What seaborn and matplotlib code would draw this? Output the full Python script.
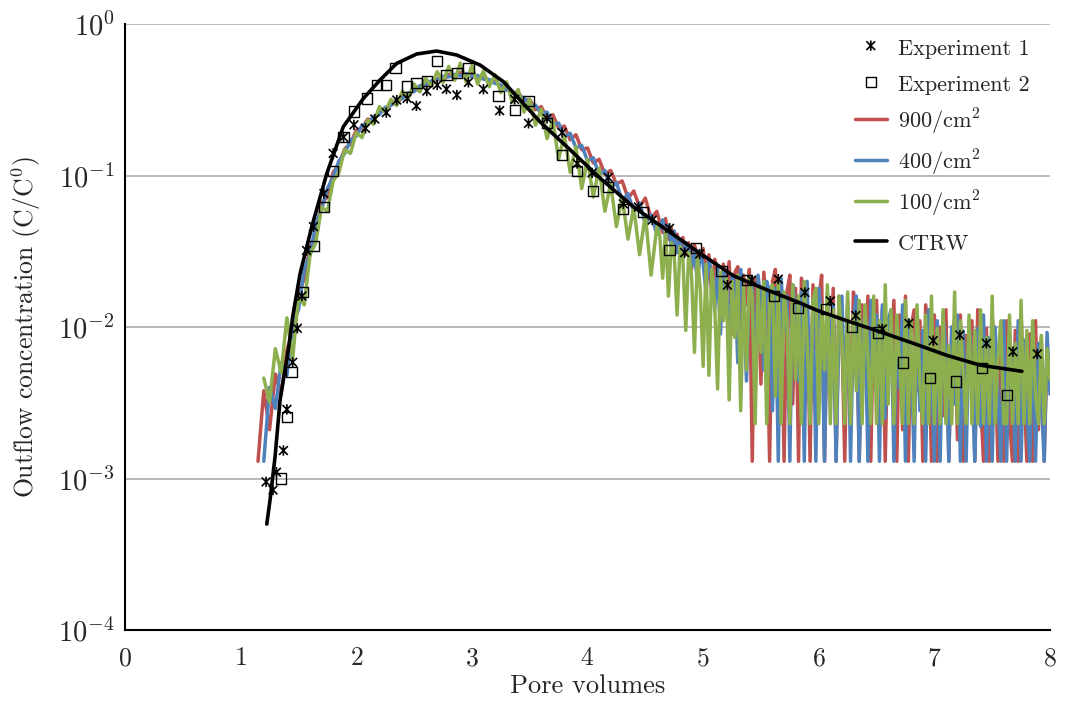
import numpy as np
import matplotlib
matplotlib.use('Agg')
import matplotlib.pyplot as plt
from matplotlib.path import Path
from matplotlib.ticker import NullLocator
import seaborn as sns

# pore-volume grid of the simulated curves (coarser in the body, finer in the tail)
pv_body = np.round(np.arange(1.15, 4.601, 0.05), 3)
pv_tail = np.round(np.arange(4.625, 8.0001, 0.025), 3)
pv_grid = np.concatenate([pv_body, pv_tail])

# simulations, 900 / cm2
c_900_body = [0.0013, 0.0038, 0.0021, 0.0049, 0.0036, 0.0071, 0.0092, 0.016, 0.021, 0.034,
              0.041, 0.066, 0.072, 0.105, 0.118, 0.150, 0.162, 0.199, 0.205, 0.236,
              0.228, 0.262, 0.271, 0.300, 0.294, 0.335, 0.338, 0.372, 0.365, 0.408,
              0.398, 0.437, 0.421, 0.466, 0.442, 0.478, 0.455, 0.470, 0.446, 0.452,
              0.418, 0.425, 0.386, 0.392, 0.350, 0.355, 0.312, 0.318, 0.272, 0.285,
              0.238, 0.252, 0.205, 0.212, 0.172, 0.186, 0.148, 0.152, 0.121, 0.128,
              0.102, 0.108, 0.088, 0.092, 0.071, 0.079, 0.062, 0.071, 0.052, 0.058]
c_900_tail = [0.049, 0.042, 0.052, 0.038, 0.045, 0.036, 0.041, 0.033,
              0.039, 0.030, 0.036, 0.024, 0.035, 0.029, 0.027, 0.033,
              0.021, 0.030, 0.016, 0.028, 0.024, 0.011, 0.026, 0.019,
              0.027, 0.009, 0.023, 0.025, 0.0065, 0.022, 0.014, 0.024,
              0.0013, 0.021, 0.018, 0.0042, 0.023, 0.012, 0.0013, 0.020,
              0.024, 0.0058, 0.019, 0.0013, 0.017, 0.022, 0.0031, 0.018,
              0.0013, 0.021, 0.011, 0.016, 0.0013, 0.019, 0.0072, 0.015,
              0.022, 0.0013, 0.013, 0.0045, 0.018, 0.0013, 0.016, 0.009,
              0.0013, 0.015, 0.0027, 0.017, 0.012, 0.0013, 0.014, 0.0055,
              0.016, 0.0013, 0.012, 0.015, 0.0034, 0.013, 0.0013, 0.011,
              0.0062, 0.015, 0.0013, 0.012, 0.0021, 0.016, 0.0013, 0.010,
              0.013, 0.0038, 0.011, 0.0013, 0.014, 0.0085, 0.0013, 0.012,
              0.0013, 0.010, 0.0026, 0.013, 0.0013, 0.0092, 0.011, 0.0018,
              0.012, 0.0013, 0.0088, 0.0045, 0.011, 0.0013, 0.013, 0.0032,
              0.0013, 0.0098, 0.0013, 0.012, 0.0061, 0.0013, 0.010, 0.0013,
              0.011, 0.0025, 0.0013, 0.0095, 0.0013, 0.012, 0.0040, 0.0013,
              0.0090, 0.0013, 0.011, 0.0021, 0.0085, 0.0013, 0.0072, 0.0038]

# simulations, 400 / cm2
c_400_body = [np.nan, 0.0013, 0.0040, 0.0029, 0.0058, 0.0048, 0.0105, 0.013, 0.024, 0.030,
              0.048, 0.060, 0.082, 0.098, 0.125, 0.140, 0.170, 0.182, 0.215, 0.221,
              0.245, 0.252, 0.282, 0.290, 0.318, 0.322, 0.352, 0.358, 0.392, 0.396,
              0.422, 0.428, 0.452, 0.448, 0.465, 0.455, 0.472, 0.449, 0.458, 0.432,
              0.430, 0.405, 0.398, 0.366, 0.360, 0.325, 0.328, 0.290, 0.292, 0.255,
              0.262, 0.218, 0.222, 0.180, 0.190, 0.152, 0.158, 0.125, 0.131, 0.101,
              0.108, 0.082, 0.090, 0.068, 0.076, 0.058, 0.066, 0.048, 0.055, 0.041]
c_400_tail = [0.045, 0.051, 0.039, 0.047, 0.034, 0.043, 0.031, 0.038,
              0.028, 0.036, 0.033, 0.025, 0.031, 0.020, 0.030, 0.026,
              0.017, 0.028, 0.022, 0.013, 0.025, 0.009, 0.023, 0.021,
              0.0075, 0.022, 0.019, 0.0058, 0.024, 0.016, 0.0044, 0.021,
              0.019, 0.0036, 0.022, 0.015, 0.0052, 0.020, 0.017, 0.0028,
              0.018, 0.0013, 0.021, 0.0095, 0.016, 0.0013, 0.019, 0.013,
              0.0044, 0.017, 0.0013, 0.020, 0.0026, 0.015, 0.0013, 0.018,
              0.012, 0.0013, 0.017, 0.0062, 0.014, 0.0013, 0.0095, 0.016,
              0.0035, 0.014, 0.0013, 0.011, 0.016, 0.0013, 0.0071, 0.013,
              0.0013, 0.015, 0.0048, 0.012, 0.0013, 0.014, 0.0025, 0.011,
              0.013, 0.0013, 0.0098, 0.0039, 0.014, 0.0013, 0.011, 0.0065,
              0.0013, 0.012, 0.0028, 0.0095, 0.0013, 0.013, 0.0052, 0.0013,
              0.011, 0.0013, 0.012, 0.0072, 0.0013, 0.010, 0.0031, 0.012,
              0.0013, 0.0094, 0.0013, 0.011, 0.0048, 0.0013, 0.0098, 0.0022,
              0.012, 0.0013, 0.0085, 0.0013, 0.010, 0.0036, 0.0013, 0.011,
              0.0013, 0.0090, 0.0052, 0.0013, 0.011, 0.0013, 0.0082, 0.0028,
              0.0013, 0.010, 0.0013, 0.0078, 0.0033, 0.0013, 0.0092, 0.0036]

# simulations, 100 / cm2
c_100_body = [np.nan, 0.0046, 0.0032, 0.0072, 0.0050, 0.0115, 0.0062, 0.016, 0.014, 0.030,
              0.036, 0.062, 0.058, 0.092, 0.105, 0.148, 0.140, 0.192, 0.178, 0.232,
              0.218, 0.285, 0.262, 0.318, 0.290, 0.362, 0.322, 0.402, 0.356, 0.438,
              0.388, 0.485, 0.412, 0.525, 0.425, 0.552, 0.415, 0.530, 0.402, 0.490,
              0.385, 0.462, 0.352, 0.415, 0.305, 0.370, 0.262, 0.318, 0.215, 0.275,
              0.175, 0.232, 0.128, 0.185, 0.105, 0.155, 0.082, 0.128, 0.072, 0.112,
              0.058, 0.088, 0.046, 0.072, 0.038, 0.062, 0.030, 0.055, 0.022, 0.046]
c_100_tail = [0.040, 0.021, 0.044, 0.016, 0.036, 0.030, 0.012, 0.034,
              0.028, 0.0095, 0.031, 0.022, 0.0068, 0.029, 0.018, 0.0055,
              0.026, 0.0048, 0.024, 0.014, 0.0039, 0.023, 0.011, 0.021,
              0.0033, 0.020, 0.0085, 0.022, 0.0028, 0.019, 0.0052, 0.021,
              0.016, 0.0023, 0.018, 0.0068, 0.020, 0.0023, 0.015, 0.019,
              0.0035, 0.021, 0.0023, 0.017, 0.011, 0.0023, 0.019, 0.0045,
              0.016, 0.0023, 0.020, 0.0078, 0.0023, 0.015, 0.018, 0.0023,
              0.014, 0.0052, 0.019, 0.0023, 0.013, 0.0023, 0.016, 0.0085,
              0.0023, 0.017, 0.0023, 0.012, 0.0038, 0.015, 0.0023, 0.014,
              0.0065, 0.0023, 0.016, 0.0023, 0.011, 0.0023, 0.019, 0.0031,
              0.013, 0.0023, 0.012, 0.0058, 0.0023, 0.015, 0.0023, 0.011,
              0.0023, 0.014, 0.0042, 0.0023, 0.012, 0.0023, 0.016, 0.0023,
              0.0098, 0.0023, 0.013, 0.0023, 0.0075, 0.0023, 0.017, 0.0023,
              0.011, 0.0048, 0.0023, 0.012, 0.0023, 0.0095, 0.0023, 0.013,
              0.0023, 0.0085, 0.0023, 0.016, 0.0023, 0.0062, 0.011, 0.0023,
              0.0023, 0.012, 0.0023, 0.0078, 0.0023, 0.015, 0.0023, 0.0095,
              0.0023, 0.011, 0.0035, 0.0023, 0.0088, 0.0023, 0.0072, 0.0045]

c_900 = c_900_body + c_900_tail
c_400 = c_400_body + c_400_tail
c_100 = c_100_body + c_100_tail

# CTRW fit
ctrw_x = [1.226, 1.254, 1.298, 1.341, 1.413, 1.45, 1.514, 1.615, 1.745, 1.888, 2.062,
          2.206, 2.35, 2.523, 2.696, 2.869, 3.071, 3.273, 3.417, 3.59, 3.821, 4.109,
          4.397, 4.686, 4.974, 5.262, 5.55, 5.839, 5.983, 6.243, 6.531, 6.819, 7.108,
          7.396, 7.757]
ctrw_y = [0.0005, 0.00072, 0.0014, 0.0033, 0.0071, 0.0117, 0.0225, 0.0459, 0.103, 0.210,
          0.323, 0.427, 0.550, 0.634, 0.663, 0.624, 0.536, 0.416, 0.315, 0.226, 0.155,
          0.096, 0.0621, 0.0437, 0.0306, 0.0218, 0.0176, 0.0144, 0.0129, 0.0110, 0.0093,
          0.0078, 0.0065, 0.0056, 0.0051]

# experiment 1
exp1_x = [1.22, 1.28, 1.31, 1.37, 1.40, 1.45, 1.49, 1.53, 1.57, 1.63, 1.72, 1.80, 1.89,
          1.98, 2.08, 2.16, 2.26, 2.35, 2.44, 2.52, 2.61, 2.70, 2.78, 2.87, 2.97, 3.10,
          3.24, 3.37, 3.49, 3.65, 3.78, 3.91, 4.04, 4.18, 4.31, 4.44, 4.56, 4.71, 4.84,
          4.97, 5.21, 5.42, 5.65, 5.88, 6.10, 6.32, 6.55, 6.78, 6.99, 7.22, 7.45, 7.68, 7.89]
exp1_y = [0.00095, 0.00084, 0.0011, 0.00153, 0.00286, 0.00585, 0.0098, 0.016, 0.032, 0.046,
          0.076, 0.140, 0.179, 0.216, 0.205, 0.236, 0.260, 0.315, 0.323, 0.288, 0.361,
          0.396, 0.372, 0.340, 0.412, 0.371, 0.268, 0.318, 0.221, 0.238, 0.192, 0.120,
          0.104, 0.097, 0.065, 0.062, 0.0508, 0.0448, 0.031, 0.0303, 0.0189, 0.0204,
          0.0207, 0.0169, 0.01485, 0.0119, 0.0097, 0.01057, 0.00813, 0.00885, 0.0078,
          0.00687, 0.00664]

# experiment 2
exp2_x = [1.35, 1.40, 1.44, 1.54, 1.63, 1.72, 1.80, 1.89, 1.98, 2.09, 2.18, 2.26, 2.34,
          2.44, 2.52, 2.61, 2.70, 2.78, 2.87, 2.97, 3.23, 3.37, 3.49, 3.65, 3.78, 3.91,
          4.05, 4.18, 4.31, 4.48, 4.71, 4.94, 5.16, 5.38, 5.61, 5.82, 6.06, 6.29, 6.51,
          6.73, 6.96, 7.19, 7.41, 7.63]
exp2_y = [0.0010, 0.00256, 0.00507, 0.0171, 0.0344, 0.0622, 0.1076, 0.179, 0.264, 0.323,
          0.396, 0.396, 0.510, 0.386, 0.406, 0.421, 0.570, 0.461, 0.477, 0.510, 0.335,
          0.271, 0.310, 0.221, 0.137, 0.1076, 0.079, 0.0844, 0.0598, 0.0577, 0.0322,
          0.0334, 0.0235, 0.0204, 0.016, 0.0133, 0.0131, 0.00995, 0.0092, 0.00582,
          0.00463, 0.00436, 0.00534, 0.00356]

sns.set_style('white')
plt.rcParams['font.family'] = ['cmr10']
plt.rcParams['mathtext.fontset'] = 'cm'
plt.rcParams['axes.formatter.use_mathtext'] = True

# Excel-like "star" marker: an X with a vertical stroke
star = Path([(-0.85, -0.85), (0.85, 0.85), (-0.85, 0.85), (0.85, -0.85), (0, -1.0), (0, 1.0)],
            [Path.MOVETO, Path.LINETO] * 3)

fig, ax = plt.subplots(figsize=(10.65, 7.04), dpi=100)
fig.subplots_adjust(left=0.1174, right=0.9859, top=0.9659, bottom=0.1051)

sns.lineplot(x=pv_grid, y=c_900, color='#C0504D', lw=2.5, estimator=None, sort=False,
             label='900/cm$^2$', ax=ax, zorder=2)
sns.lineplot(x=pv_grid, y=c_400, color='#4F81BD', lw=2.5, estimator=None, sort=False,
             label='400/cm$^2$', ax=ax, zorder=2)
sns.lineplot(x=pv_grid, y=c_100, color='#8DAF4E', lw=2.5, estimator=None, sort=False,
             label='100/cm$^2$', ax=ax, zorder=2)
sns.scatterplot(x=exp1_x, y=exp1_y, marker=star, s=55, facecolor='none', edgecolor='k',
                linewidth=1.2, label='Experiment 1', ax=ax, zorder=3)
sns.scatterplot(x=exp2_x, y=exp2_y, marker='s', s=55, facecolor='none', edgecolor='k',
                linewidth=1.0, label='Experiment 2', ax=ax, zorder=3)
sns.lineplot(x=ctrw_x, y=ctrw_y, color='k', lw=2.6, estimator=None, sort=False,
             label='CTRW', ax=ax, zorder=4)

ax.set_yscale('log')
ax.set_ylim(1e-4, 1)
ax.set_xlim(0, 8)
ax.set_xticks(range(9))
ax.yaxis.set_minor_locator(NullLocator())

ax.yaxis.grid(True, color='#a6a6a6', lw=1.1)
ax.xaxis.grid(False)
for side in ['top', 'right']:
    ax.spines[side].set_visible(False)
for side in ['left', 'bottom']:
    ax.spines[side].set_color('k')
    ax.spines[side].set_linewidth(1.5)
ax.tick_params(direction='inout', length=8, width=1.2, color='k')
ax.tick_params(axis='y', labelsize=20.5)
ax.tick_params(axis='x', labelsize=18.5, pad=8)

ax.set_xlabel('Pore volumes', fontsize=19, labelpad=3)
ax.set_ylabel('Outflow concentration (C/C$^0$)', fontsize=18.5, labelpad=11)

handles, labels = ax.get_legend_handles_labels()
order = ['Experiment 1', 'Experiment 2', '900/cm$^2$', '400/cm$^2$', '100/cm$^2$', 'CTRW']
hl = dict(zip(labels, handles))
ax.legend([hl[k] for k in order], order, loc='upper right', frameon=False, fontsize=16,
          labelspacing=0.5, handlelength=1.45, handletextpad=0.5, handleheight=1.35,
          borderaxespad=0.1, bbox_to_anchor=(0.99, 1.0))

plt.savefig('out.png', dpi=100)
